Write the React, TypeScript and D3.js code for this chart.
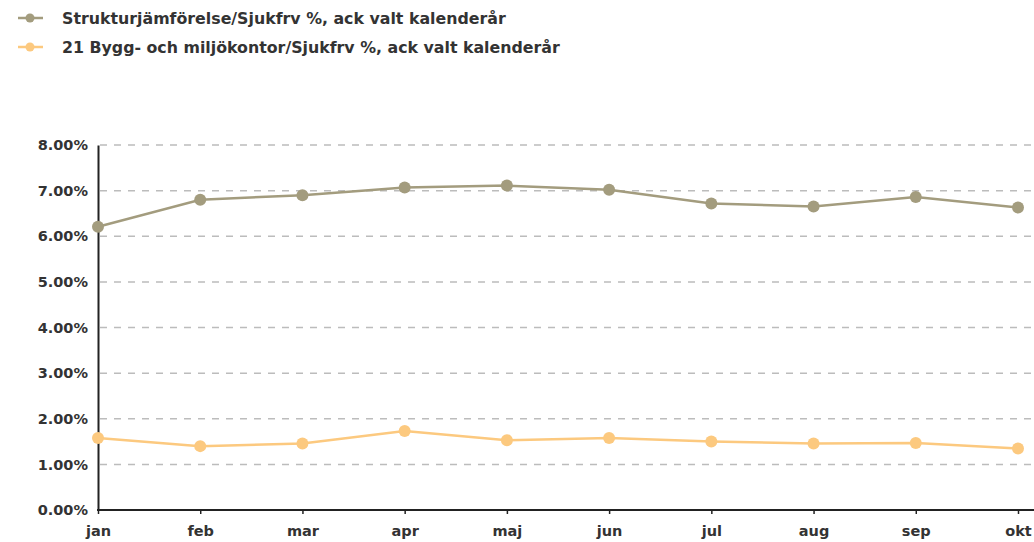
import * as d3 from "d3";
import { useEffect, useRef } from "react";

// månader (diagrammet är beskuret efter okt)
const months = ["jan", "feb", "mar", "apr", "maj", "jun", "jul", "aug", "sep", "okt"];
const strukturValues = [6.21, 6.8, 6.9, 7.07, 7.11, 7.02, 6.72, 6.65, 6.86, 6.63];
const byggValues = [1.58, 1.4, 1.46, 1.73, 1.53, 1.58, 1.5, 1.46, 1.47, 1.35];
const seriesNames = [
  "Strukturjämförelse/Sjukfrv %, ack valt kalenderår",
  "21 Bygg- och miljökontor/Sjukfrv %, ack valt kalenderår",
];
const seriesColors = ["#a39c7e", "#fcc97f"];
const yTicks = [0, 1, 2, 3, 4, 5, 6, 7, 8];

export default function App() {
  const svgRef = useRef<SVGSVGElement>(null);

  useEffect(() => {
    if (!svgRef.current) return;
    const width = 1034;
    const height = 542;
    const font = "'DejaVu Sans', sans-serif";
    const svg = d3.select(svgRef.current);
    svg.selectAll("*").remove();
    svg.attr("width", width).attr("height", height);

    const x = d3.scalePoint<string>().domain(months).range([98, 1018]);
    const y = d3.scaleLinear().domain([0, 8]).range([510, 145]);

    // legend
    const legend = svg
      .append("g")
      .selectAll("g")
      .data(seriesNames)
      .enter()
      .append("g")
      .attr("transform", (d, i) => `translate(0, ${18 + i * 29})`);
    legend
      .append("line")
      .attr("x1", 18)
      .attr("x2", 43)
      .style("stroke", (d, i) => seriesColors[i])
      .style("stroke-width", 2.5);
    legend
      .append("circle")
      .attr("cx", 30)
      .attr("r", 4.5)
      .style("fill", (d, i) => seriesColors[i]);
    legend
      .append("text")
      .attr("x", 62)
      .attr("dy", "0.35em")
      .style("font-family", font)
      .style("font-size", "15.8px")
      .style("font-weight", "bold")
      .style("fill", "#333")
      .text((d) => d);

    // rutnät
    svg
      .append("g")
      .selectAll("line")
      .data(yTicks.filter((t) => t > 0))
      .enter()
      .append("line")
      .attr("x1", 100)
      .attr("x2", width)
      .attr("y1", (d) => y(d))
      .attr("y2", (d) => y(d))
      .style("stroke", "#bcbcbc")
      .style("stroke-width", 1.5)
      .style("stroke-dasharray", "7,7");

    // y-axel
    const yAxis = svg
      .append("g")
      .attr("transform", `translate(98,0)`)
      .call(
        d3
          .axisLeft(y)
          .tickValues(yTicks)
          .tickSize(0)
          .tickPadding(10)
          .tickFormat((d) => `${(+d).toFixed(2)}%`),
      );
    yAxis.select(".domain").style("stroke", "#222").style("stroke-width", 2);
    yAxis
      .selectAll("text")
      .style("font-family", font)
      .style("font-size", "14.5px")
      .style("font-weight", "bold")
      .style("fill", "#333");

    // x-axel
    const xAxis = svg
      .append("g")
      .attr("transform", `translate(0,510)`)
      .call(d3.axisBottom(x).tickSize(4).tickPadding(12));
    xAxis.select(".domain").remove();
    xAxis
      .append("line")
      .attr("x1", 97)
      .attr("x2", width)
      .style("stroke", "#222")
      .style("stroke-width", 2);
    xAxis.selectAll(".tick line").style("stroke", "#222").style("stroke-width", 1.5);
    xAxis
      .selectAll("text")
      .style("font-family", font)
      .style("font-size", "14.5px")
      .style("font-weight", "bold")
      .style("fill", "#333");

    // linjer
    const line = d3
      .line<number>()
      .x((d, i) => x(months[i]) as number)
      .y((d) => y(d));
    [strukturValues, byggValues].forEach((values, s) => {
      const g = svg.append("g");
      g.append("path")
        .datum(values)
        .attr("d", line)
        .style("fill", "none")
        .style("stroke", seriesColors[s])
        .style("stroke-width", 2.5);
      g.selectAll("circle")
        .data(values)
        .enter()
        .append("circle")
        .attr("cx", (d, i) => x(months[i]) as number)
        .attr("cy", (d) => y(d))
        .attr("r", 6)
        .style("fill", seriesColors[s]);
    });
  }, []);

  return (
    <svg
      ref={svgRef}
      style={{ position: "absolute", left: 0, top: 0, background: "#fff" }}
    ></svg>
  );
}
